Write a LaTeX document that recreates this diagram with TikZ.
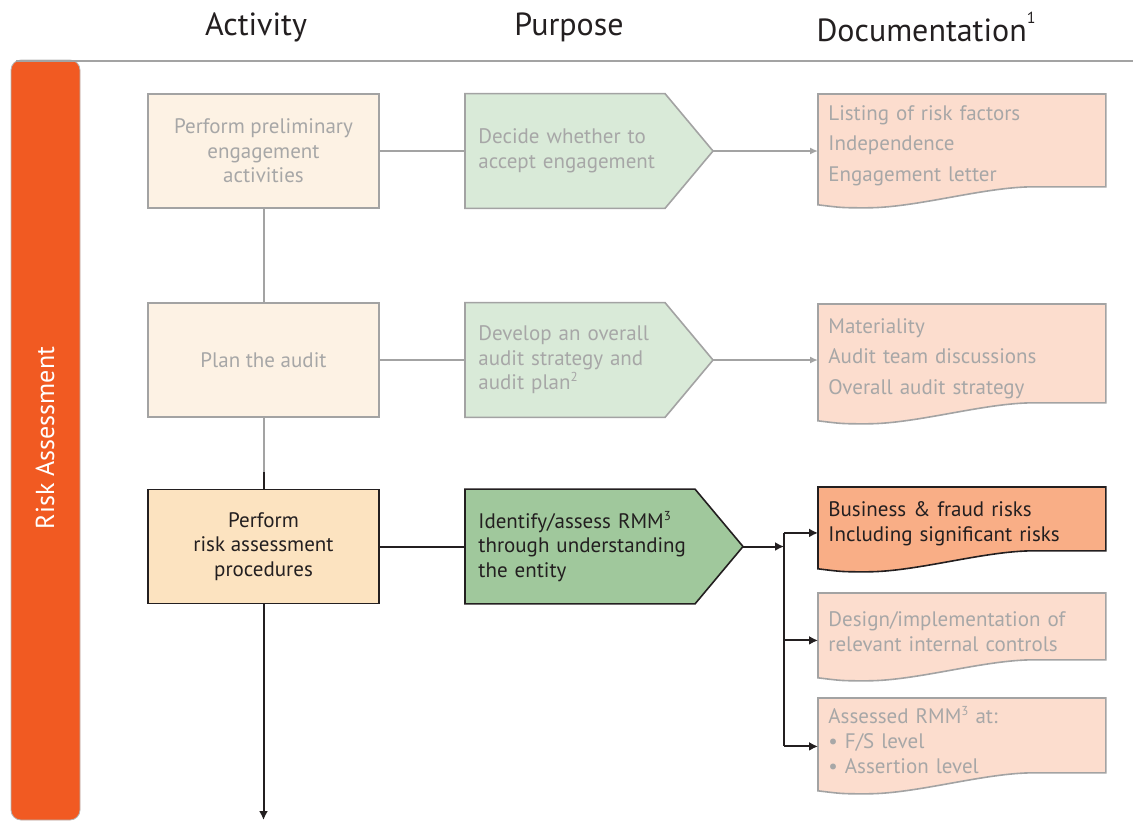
\documentclass[tikz,border=0pt]{standalone}
\usepackage{fontspec}
\setmainfont{PT Sans}
\usetikzlibrary{arrows.meta,calc,backgrounds}

\definecolor{barorange}{HTML}{F15A22}
\definecolor{linegray}{HTML}{A3A3A3}
\definecolor{textgray}{HTML}{A7A7A7}
\definecolor{inkblack}{HTML}{231F20}
\definecolor{creamfill}{HTML}{FDF2E4}
\definecolor{palegreen}{HTML}{D9EAD8}
\definecolor{peachfill}{HTML}{FCDDCE}
\definecolor{sandfill}{HTML}{FCE3C0}
\definecolor{midgreen}{HTML}{A0C89C}
\definecolor{salmonfill}{HTML}{F9AE86}

% small raised note number
\newcommand{\notenum}[1]{\raisebox{0.75ex}{\fontsize{6.5}{7}\selectfont #1}}

% pointed purpose box behind a node: node, style, body width
\newcommand{\pointbox}[3]{%
  \path[#2] (#1.north west) -- ($(#1.north west)+(#3,0)$)
    -- ($(#1.west)+(#3,0)+(24pt,0)$) -- ($(#1.south west)+(#3,0)$)
    -- (#1.south west) -- cycle;
  \coordinate (#1-tip) at ($(#1.west)+(#3,0)+(24pt,0)$);}

% document box with wavy bottom behind a node: node, style
\newcommand{\wavebox}[2]{%
  \path[#2] (#1.north west) -- (#1.north east) -- ([yshift=5pt]#1.south east)
    -- ([xshift=-36pt,yshift=5pt]#1.south east)
    .. controls ([xshift=-61pt,yshift=5pt]#1.south east) and ([xshift=49.5pt,yshift=-5.5pt]#1.south west)
    .. ([xshift=24.5pt,yshift=-5.5pt]#1.south west)
    .. controls ([xshift=12pt,yshift=-5.5pt]#1.south west) .. ([yshift=-4pt]#1.south west)
    -- cycle;}

\tikzset{
  head/.style={font=\fontsize{16}{18}\selectfont, text=inkblack},
  stage/.style={rectangle, minimum width=115.5pt, minimum height=57pt, align=center,
                line width=0.8pt, font=\fontsize{10.5}{12.25}\selectfont},
  faded/.style={draw=linegray, text=textgray},
  current/.style={draw=inkblack, text=inkblack},
  aim/.style={rectangle, anchor=west, minimum height=57pt, text width=118pt, inner xsep=6.5pt,
              align=left, font=\fontsize{10.5}{12.25}\selectfont},
  record/.style={rectangle, anchor=north west, minimum width=143.5pt, minimum height=51pt,
                 text width=133.5pt, inner xsep=5pt, align=left, font=\fontsize{10.5}{15.25}\selectfont},
  tight/.style={font=\fontsize{10.5}{12.5}\selectfont},
  greyline/.style={draw=linegray, line width=1pt},
  blackline/.style={draw=inkblack, line width=1pt},
  greyarrow/.style={greyline, -{Latex[length=4pt,width=3.5pt]}},
  blackarrow/.style={blackline, -{Latex[length=4.5pt,width=4.5pt]}}
}

\begin{document}
\begin{tikzpicture}[x=0.5pt, y=-0.5pt]
  \useasboundingbox (0,0) rectangle (1133,821);

  % side bar and headings
  \draw[draw=linegray!80, line width=0.4pt, fill=barorange, rounded corners=5pt] (11,60) rectangle (80,820);
  \draw[greyline] (16,60.5) -- (1133,60.5);
  \node[rotate=90, text=white, font=\fontsize{13}{15}\selectfont] (phase) at (45,438) {Risk Assessment};
  \node[head] (hactivity) at (256,27) {Activity};
  \node[head] (hpurpose) at (569,27) {Purpose};
  \node[head] (hdocs) at (926,27) {Documentation\raisebox{1.1ex}{\fontsize{8}{9}\selectfont 1}};

  % activities
  \node[stage, faded, fill=creamfill] (prelim) at (263.5,151) {Perform preliminary\\engagement\\activities};
  \node[stage, faded, fill=creamfill] (plan) at (263.5,360) {Plan the audit};
  \node[stage, current, fill=sandfill] (riskproc) at (263.5,546.5) {Perform\\risk assessment\\procedures};

  % purposes
  \node[aim, text=textgray] (accept) at (465,151) {Decide whether to\\accept engagement};
  \node[aim, text=textgray] (strategy) at (465,360) {Develop an overall\\audit strategy and\\audit plan\notenum{2}};
  \node[aim, text=inkblack] (identify) at (465,546.5) {Identify/assess RMM\notenum{3}\\through understanding\\the entity};

  % documentation
  \node[record, text=textgray] (listing) at (818,94) {Listing of risk factors\\Independence\\Engagement letter};
  \node[record, text=textgray, minimum height=54pt] (materiality) at (818,304) {Materiality\\Audit team discussions\\Overall audit strategy};
  \node[record, tight, text=inkblack, minimum height=36.5pt] (bizrisk) at (818,487) {Business \& fraud risks\\Including significant risks};
  \node[record, tight, text=textgray, minimum height=38pt] (controls) at (818,593) {Design/implementation of\\relevant internal controls};
  \node[record, tight, text=textgray, minimum height=42pt] (assessed) at (818,698) {Assessed RMM\notenum{3} at:\\\textbullet\ F/S level\\\textbullet\ Assertion level};

  \begin{scope}[on background layer]
    \pointbox{accept}{fill=palegreen, draw=linegray, line width=0.8pt}{100pt}
    \pointbox{strategy}{fill=palegreen, draw=linegray, line width=0.8pt}{100pt}
    \pointbox{identify}{fill=midgreen, draw=inkblack, line width=0.8pt}{115pt}
    \wavebox{listing}{fill=peachfill, draw=linegray, line width=0.8pt}
    \wavebox{materiality}{fill=peachfill, draw=linegray, line width=0.8pt}
    \wavebox{bizrisk}{fill=salmonfill, draw=inkblack, line width=0.8pt}
    \wavebox{controls}{fill=peachfill, draw=linegray, line width=0.8pt}
    \wavebox{assessed}{fill=peachfill, draw=linegray, line width=0.8pt}
  \end{scope}

  % connectors
  \draw[greyline] (prelim) -- (accept);
  \draw[greyarrow] (accept-tip) -- (accept-tip -| listing.west);
  \draw[greyline] (prelim) -- (plan);
  \draw[greyline] (plan) -- (strategy);
  \draw[greyarrow] (strategy-tip) -- (strategy-tip -| materiality.west);
  \coordinate (join) at (263.5,472);
  \draw[greyline] (plan) -- (join);
  \draw[blackline] (join) -- (riskproc);
  \draw[blackline] (riskproc) -- (identify);
  \coordinate (split) at (784,546.5);
  \draw[blackarrow] (identify-tip) -- (split);
  \coordinate (bizin) at ([yshift=-4.5pt]bizrisk.west);
  \coordinate (ctlin) at ([yshift=-4.5pt]controls.west);
  \coordinate (rmmin) at ([yshift=-3pt]assessed.west);
  \draw[blackline] (bizin -| split) -- (rmmin -| split);
  \draw[blackarrow] (bizin -| split) -- (bizin);
  \draw[blackarrow] (ctlin -| split) -- (ctlin);
  \draw[blackarrow] (rmmin -| split) -- (rmmin);
  \coordinate (exit) at (263.5,820);
  \draw[blackarrow] (riskproc) -- (exit);
\end{tikzpicture}
\end{document}
